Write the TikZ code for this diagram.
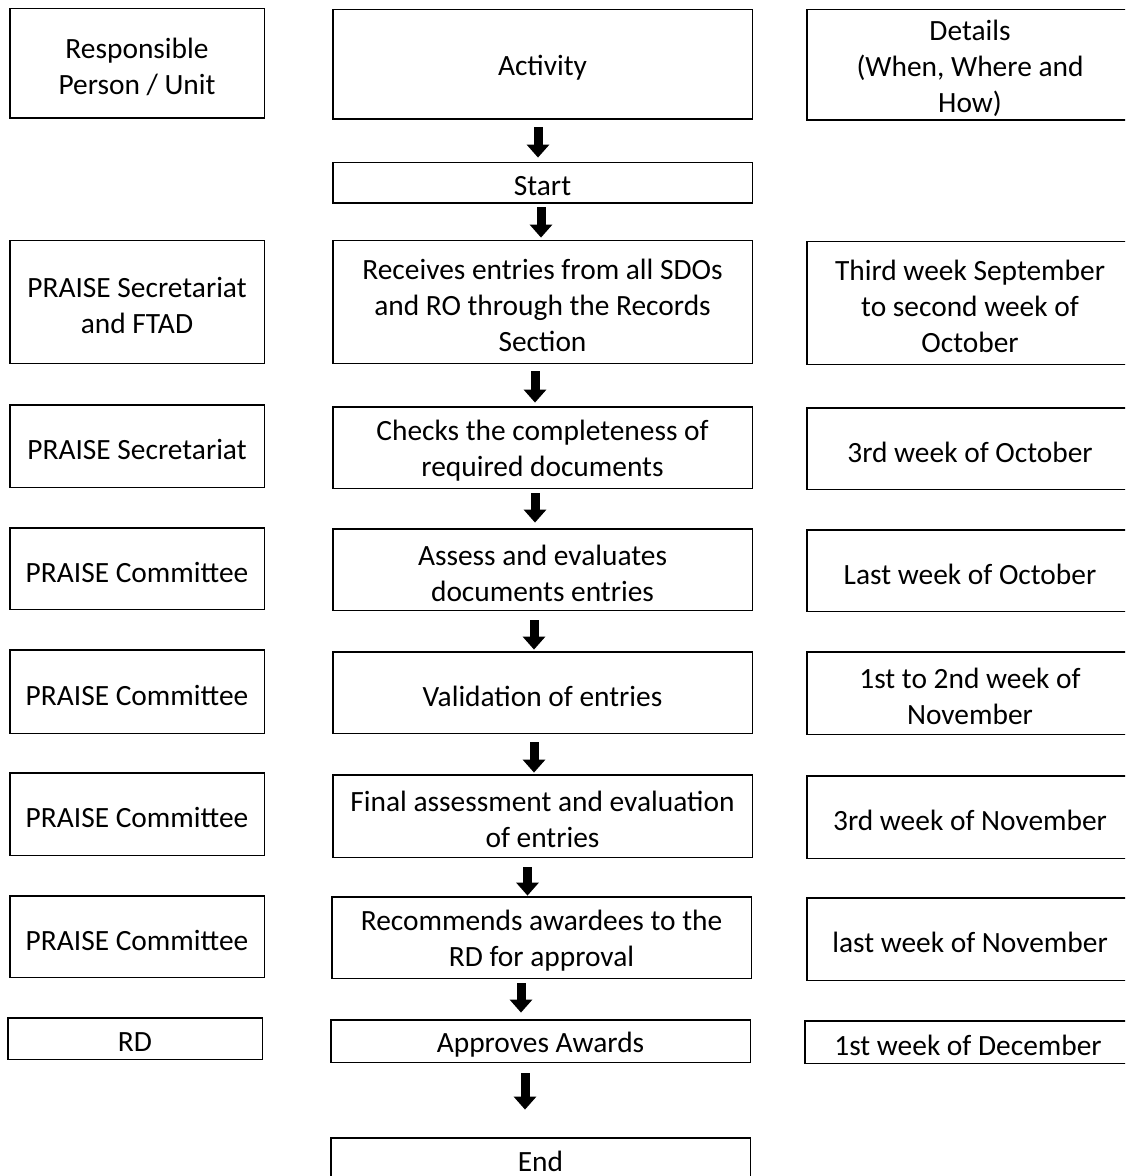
\documentclass[tikz,border=0pt]{standalone}
\usepackage{fontspec}
\setmainfont{Carlito}
\usetikzlibrary{arrows.meta,calc}

\begin{document}
\begin{tikzpicture}[x=0.5pt, y=-0.5pt,
    cell/.style={align=center, inner sep=0pt, font=\fontsize{14.7}{18}\selectfont,
      yshift=-1.75pt,
      append after command={\pgfextra{\draw [line width=0.9pt]
        ([yshift=1.75pt]\tikzlastnode.south west) rectangle ([yshift=1.75pt]\tikzlastnode.north east);}}},
    whocell/.style={cell, minimum width=127pt},
    actcell/.style={cell, minimum width=209.5pt},
    whencell/.style={cell, minimum width=163pt},
    flowarrow/.style={line width=4.5pt, -{Triangle[width=11pt, length=6.5pt]}}]
    \clip (0, 0) rectangle (1125, 1176);

    % header row
    \node [whocell, minimum height=54.5pt] (who) at (137, 63.5) {Responsible\\Person / Unit};
    \node [actcell, minimum height=54.5pt] (act) at (542.5, 64.5) {Activity};
    \node [whencell, minimum height=55pt] (when) at (970, 65) {Details\\(When, Where and\\How)};

    \node [actcell, minimum height=20pt] (start) at (542.5, 183) {Start};

    \node [whocell, minimum height=61pt] (who1) at (137, 302) {PRAISE Secretariat\\and FTAD};
    \node [actcell, minimum height=61pt] (recv) at (542.5, 302) {Receives entries from all SDOs\\and RO through the Records\\Section};
    \node [whencell, minimum height=61pt] (when1) at (970, 303) {Third week September\\to second week of\\October};

    \node [whocell, minimum height=41pt] (who2) at (137, 446) {PRAISE Secretariat};
    \node [actcell, minimum height=40.5pt] (check) at (542.5, 447.5) {Checks the completeness of\\required documents};
    \node [whencell, minimum height=40.5pt] (when2) at (970, 448.5) {3rd week of October};

    \node [whocell, minimum height=40.5pt] (who3) at (137, 568.5) {PRAISE Committee};
    \node [actcell, minimum height=40.5pt] (assess) at (542.5, 569.5) {Assess and evaluates\\documents entries};
    \node [whencell, minimum height=40.5pt] (when3) at (970, 570.5) {Last week of October};

    \node [whocell, minimum height=41.5pt] (who4) at (137, 691.5) {PRAISE Committee};
    \node [actcell, minimum height=40.5pt] (valid) at (542.5, 692.5) {Validation of entries};
    \node [whencell, minimum height=41pt] (when4) at (970, 693) {1st to 2nd week of\\November};

    \node [whocell, minimum height=41pt] (who5) at (137, 814) {PRAISE Committee};
    \node [actcell, minimum height=41pt] (final) at (542.5, 816) {Final assessment and evaluation\\of entries};
    \node [whencell, minimum height=41pt] (when5) at (970, 817) {3rd week of November};

    \node [whocell, minimum height=40.5pt] (who6) at (137, 936.5) {PRAISE Committee};
    \node [actcell, minimum height=40.5pt] (recom) at (541.5, 937.5) {Recommends awardees to the\\RD for approval};
    \node [whencell, minimum height=41pt] (when6) at (970, 939) {last week of November};

    \node [whocell, minimum height=20.5pt] (who7) at (135, 1038.5) {RD};
    \node [actcell, minimum height=21pt] (appr) at (540.5, 1041) {Approves Awards};
    \node [whencell, minimum height=21pt] (when7) at (968, 1042) {1st week of December};

    \node [actcell, minimum height=20pt] (finish) at (540.5, 1158) {End};

    % block arrows down the middle
    \draw [flowarrow] ($(act.south)+(-4.5, 4.5)$) -- ($(start.north)+(-4.5, -8.5)$);
    \draw [flowarrow] ($(start.south)+(-1.5, 0.5)$) -- ($(recv.north)+(-1.5, -6.5)$);
    \draw [flowarrow] ($(recv.south)+(-7.5, 4.5)$) -- ($(check.north)+(-7.5, -7.5)$);
    \draw [flowarrow] ($(check.south)+(-7.5, 1.5)$) -- ($(assess.north)+(-7.5, -9.5)$);
    \draw [flowarrow] ($(assess.south)+(-8.5, 6.5)$) -- ($(valid.north)+(-8.5, -5.5)$);
    \draw [flowarrow] ($(valid.south)+(-8.5, 5.5)$) -- ($(final.north)+(-8.5, -5.5)$);
    \draw [flowarrow] ($(final.south)+(-15, 6.5)$) -- ($(recom.north)+(-14, -4.5)$);
    \draw [flowarrow] ($(recom.south)+(-20.5, 1.5)$) -- ($(appr.north)+(-19.5, -10.5)$);
    \draw [flowarrow] ($(appr.south)+(-15.5, 7.5)$) -- ($(finish.north)+(-15.5, -31.5)$);
  \end{tikzpicture}
\end{document}
